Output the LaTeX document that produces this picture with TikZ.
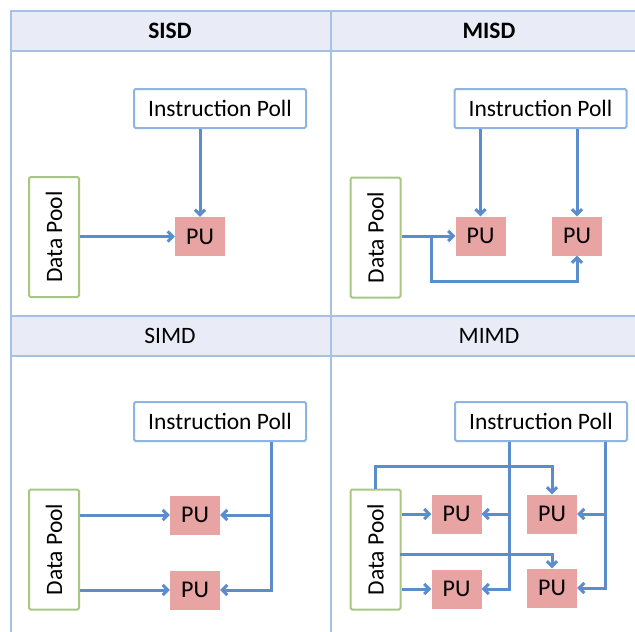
\documentclass[tikz,border=0pt]{standalone}
\usepackage{fontspec}
\setmainfont{Carlito}
\usetikzlibrary{arrows.meta}

\definecolor{gridblue}{HTML}{A7C1E4}
\definecolor{headfill}{HTML}{E9ECF6}
\definecolor{instrblue}{HTML}{8EB4E3}
\definecolor{poolgreen}{HTML}{A9C77E}
\definecolor{pufill}{HTML}{E8A3A3}
\definecolor{flowblue}{HTML}{5B8CCB}

\tikzset{
    header/.style={draw=gridblue, fill=headfill, line width=2.5pt},
    gridline/.style={draw=gridblue, line width=2.5pt},
    title/.style={font=\fontsize{23.5}{27}\selectfont},
    instr/.style={draw=instrblue, fill=white, line width=2pt, rounded corners=1.5pt,
        minimum width=172pt, minimum height=39pt, inner sep=0pt, font=\fontsize{23.5}{27}\selectfont},
    pool/.style={draw=poolgreen, line width=2pt, rounded corners=1.5pt,
        minimum width=50pt, minimum height=120pt, inner sep=0pt, font=\fontsize{23.5}{27}\selectfont},
    pu/.style={fill=pufill, minimum width=50pt, minimum height=39pt, inner sep=0pt,
        font=\fontsize{24}{28}\selectfont},
    wire/.style={draw=flowblue, line width=3pt},
    flow/.style={wire, -{Straight Barb[length=5pt, width=10pt]}}
}

\begin{document}
\begin{tikzpicture}[x=1pt, y=-1pt]

    \clip (0, 0) rectangle (635, 632);
    \fill[white] (0, 0) rectangle (635, 632);

    \draw[header] (11, 11) rectangle (660, 51);
    \draw[header] (11, 316) rectangle (660, 356);
    \draw[gridline] (11, 11) -- (11, 640);
    \draw[gridline] (331, 11) -- (331, 640);

    \node[title, font=\fontsize{23.5}{27}\selectfont\bfseries] (t1) at (170, 31) {SISD};
    \node[title, font=\fontsize{23.5}{27}\selectfont\bfseries] (t2) at (489, 31) {MISD};
    \node[title] (t3) at (170, 336) {SIMD};
    \node[title] (t4) at (489, 336) {MIMD};

    % SISD
    \node[instr] (ip1) at (220, 108.5) {Instruction Poll};
    \node[pool] (dp1) at (54, 237) {\rotatebox{90}{Data Pool}};
    \node[pu] (pu1) at (200, 236.5) {PU};

    \draw[flow] (ip1.south -| pu1) -- (pu1.north);
    \draw[flow] (dp1.east |- pu1) -- (pu1.west);

    % MISD
    \node[instr] (ip2) at (540.5, 108.5) {Instruction Poll};
    \node[pool] (dp2) at (375.5, 237.5) {\rotatebox{90}{Data Pool}};
    \node[pu] (pu2a) at (480.5, 236) {PU};
    \node[pu] (pu2b) at (577, 236) {PU};
    \coordinate (split2) at (431, 236);

    \draw[flow] (ip2.south -| pu2a) -- (pu2a.north);
    \draw[flow] (ip2.south -| pu2b) -- (pu2b.north);
    \draw[flow] (dp2.east |- pu2a) -- (pu2a.west);
    \draw[flow] (split2) -- ++(0, 45) -| (pu2b.south);

    % SIMD
    \node[instr] (ip3) at (220, 421.5) {Instruction Poll};
    \node[pool] (dp3) at (54, 549.5) {\rotatebox{90}{Data Pool}};
    \node[pu] (pu3a) at (195, 515) {PU};
    \node[pu] (pu3b) at (195, 590) {PU};
    \coordinate (bus3) at (271, 515);

    \draw[flow] (ip3.south -| bus3) |- (pu3b.east);
    \draw[flow] (bus3) -- (pu3a.east);
    \draw[flow] (dp3.east |- pu3a) -- (pu3a.west);
    \draw[flow] (dp3.east |- pu3b) -- (pu3b.west);

    % MIMD
    \node[instr] (ip4) at (541, 421.5) {Instruction Poll};
    \node[pool] (dp4) at (375.5, 549.5) {\rotatebox{90}{Data Pool}};
    \node[pu] (pu4a) at (456.5, 514) {PU};
    \node[pu] (pu4b) at (552, 514) {PU};
    \node[pu] (pu4c) at (456.5, 589) {PU};
    \node[pu] (pu4d) at (552, 588) {PU};
    \coordinate (bus4a) at (509, 514);
    \coordinate (bus4b) at (605, 514);
    \coordinate (tap4) at (400, 554);

    \draw[flow] (dp4.north) -- ++(0, -22) -| (pu4b.north);
    \draw[flow] (tap4) -| (pu4d.north);
    \draw[flow] (dp4.east |- pu4a) -- (pu4a.west);
    \draw[flow] (dp4.east |- pu4c) -- (pu4c.west);

    \draw[flow] (ip4.south -| bus4a) |- (pu4c.east);
    \draw[flow] (bus4a) -- (pu4a.east);
    \draw[flow] (ip4.south -| bus4b) |- (pu4d.east);
    \draw[flow] (bus4b) -- (pu4b.east);

\end{tikzpicture}
\end{document}
